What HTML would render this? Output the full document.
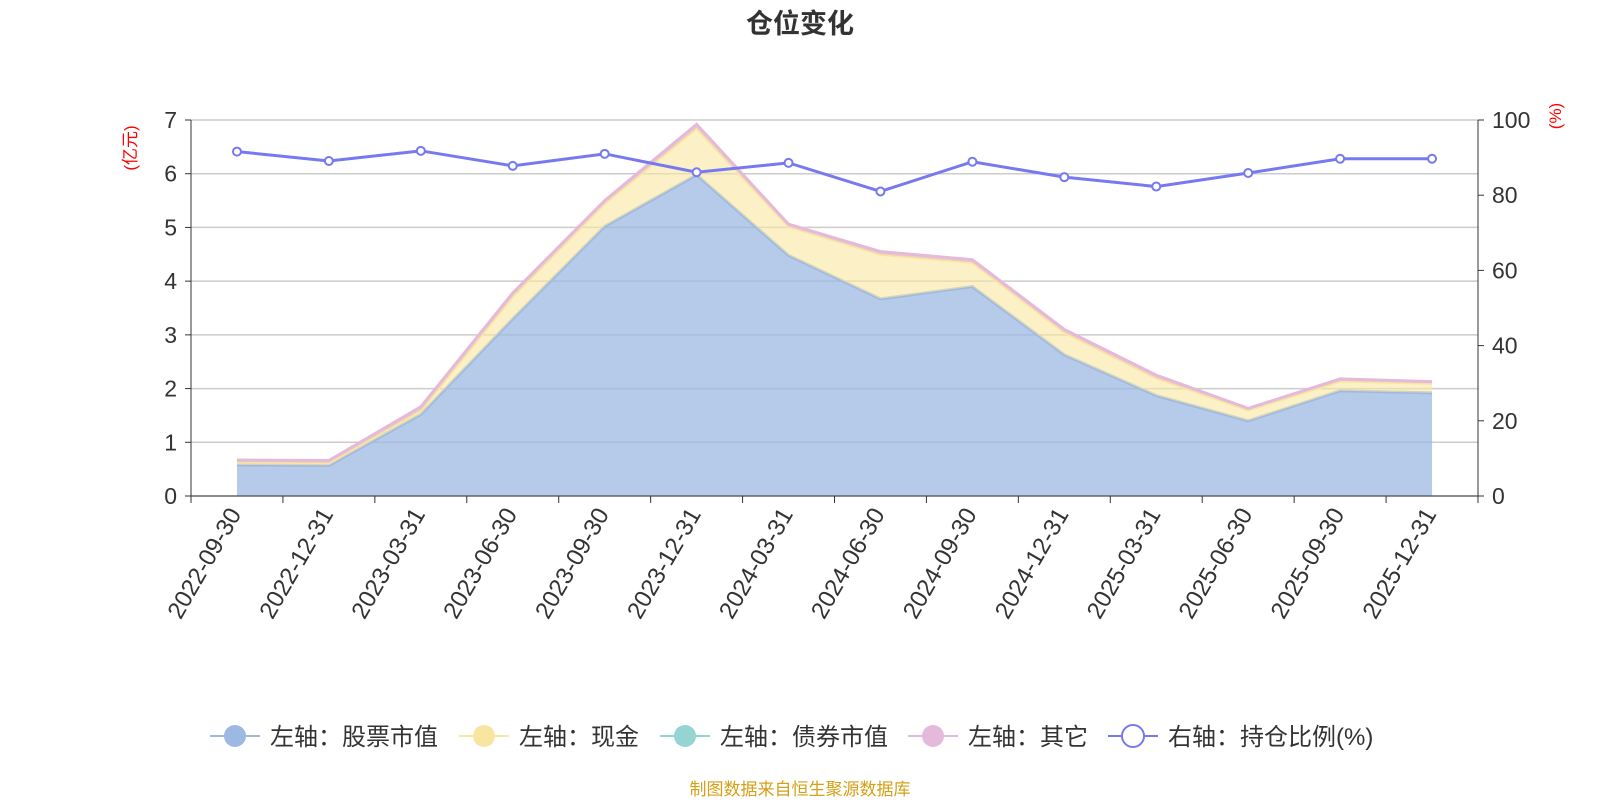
<!DOCTYPE html>
<html><head><meta charset="utf-8"><style>
body{margin:0;background:#fff;width:1600px;height:800px;overflow:hidden;font-family:"Liberation Sans","Noto Sans CJK SC",sans-serif;}
</style></head><body>
<svg id="c" width="1600" height="800" xmlns="http://www.w3.org/2000/svg" font-family="Liberation Sans, Noto Sans CJK SC, sans-serif">
<text x="800" y="33" text-anchor="middle" font-size="27" font-weight="bold" fill="#333">仓位变化</text>
<text transform="translate(136,148) rotate(-90)" text-anchor="middle" font-size="17" fill="red">(亿元)</text>
<text transform="translate(1561,116) rotate(-90)" text-anchor="middle" font-size="17" fill="red">(%)</text>
<g id="grid"></g><g id="areas"></g><g id="axes"></g><g id="ratio"></g>
<g id="legend"></g>
<text x="800" y="795" text-anchor="middle" font-size="17" fill="#d4a017">制图数据来自恒生聚源数据库</text>
</svg>
<script>
const categories=["2022-09-30","2022-12-31","2023-03-31","2023-06-30","2023-09-30","2023-12-31","2024-03-31","2024-06-30","2024-09-30","2024-12-31","2025-03-31","2025-06-30","2025-09-30","2025-12-31"];
const stockValues=[0.58,0.57,1.52,3.3,5.02,5.98,4.48,3.67,3.9,2.63,1.87,1.4,1.96,1.92];
const cashValues=[0.05,0.05,0.08,0.42,0.43,0.87,0.54,0.83,0.45,0.42,0.33,0.2,0.18,0.18];
const bondValues=[0,0,0,0,0,0,0,0,0,0,0,0,0,0];
const otherValues=[0.04,0.04,0.06,0.06,0.05,0.07,0.04,0.05,0.05,0.05,0.05,0.03,0.04,0.03];
const ratioValues=[91.6,89.1,91.8,87.8,91.0,86.1,88.6,81.0,88.9,84.8,82.3,85.9,89.7,89.7];
const leftTicks=[0,1,2,3,4,5,6,7];
const rightTicks=[0,20,40,60,80,100];
const NS="http://www.w3.org/2000/svg";
const X0=191,X1=1478,Y0=496,Y1=120;
const bw=(X1-X0)/categories.length;
const xC=i=>X0+bw*(i+0.5);
const yL=v=>Y0-(v/7)*(Y0-Y1);
const yR=v=>Y0-(v/100)*(Y0-Y1);
function mk(tag,attrs,parent){const e=document.createElementNS(NS,tag);for(const k in attrs)e.setAttribute(k,attrs[k]);document.getElementById(parent).appendChild(e);return e;}
leftTicks.forEach(t=>{
 const l=mk('line',{x1:X0,x2:X1,y1:yL(t),y2:yL(t),stroke:'#ccc','stroke-width':1.5},'grid');
 
 
 mk('line',{x1:X0-6,x2:X0,y1:yL(t),y2:yL(t),stroke:'#333'},'axes');
 const tx=mk('text',{x:X0-14,y:yL(t)+8,'text-anchor':'end','font-size':23,fill:'#333'},'axes');tx.textContent=t;
 
 
});
rightTicks.forEach(t=>{
 mk('line',{x1:X1,x2:X1+6,y1:yR(t),y2:yR(t),stroke:'#333'},'axes');
 const tx=mk('text',{x:X1+14,y:yR(t)+8,'font-size':23,fill:'#333'},'axes');tx.textContent=t;
 
 
});
mk('line',{x1:X0,x2:X0,y1:Y1,y2:Y0,stroke:'#333'},'axes');
mk('line',{x1:X1,x2:X1,y1:Y1,y2:Y0,stroke:'#333'},'axes');
mk('line',{x1:X0,x2:X1,y1:Y0,y2:Y0,stroke:'#333'},'axes');
for(let i=0;i<=categories.length;i++)mk('line',{x1:X0+bw*i,x2:X0+bw*i,y1:Y0,y2:Y0+7,stroke:'#333'},'axes');
categories.forEach((c,i)=>{
 const tx=mk('text',{transform:`translate(${xC(i)+5},${Y0+18}) rotate(-60)`,'text-anchor':'end','font-size':24,fill:'#333'},'axes');tx.textContent=c;
 
 
});
const series=[[stockValues,'#9db8e2','rgba(157,184,226,0.75)','stock-area'],[cashValues,'#f8e6a0','rgba(248,230,160,0.6)','cash-area'],[bondValues,'none','rgba(150,211,211,0.6)','bond-area'],[otherValues,'#e5b9da','rgba(229,185,218,0.6)','other-area']];
const base=categories.map(()=>0);
series.forEach(([vals,col,fill,name])=>{
 const top=vals.map((v,i)=>base[i]+v);
 const up=top.map((v,i)=>`${xC(i)},${yL(v)}`);
 const dn=base.map((v,i)=>`${xC(i)},${yL(v)}`).reverse();
 const p=mk('polygon',{points:up.concat(dn).join(' '),fill:fill,stroke:'none'},'areas');
 
 
 const l=mk('polyline',{points:up.join(' '),fill:'none',stroke:col,'stroke-width':3},'areas');
 
 
 top.forEach((v,i)=>base[i]=v);
});
const rl=mk('polyline',{points:ratioValues.map((v,i)=>`${xC(i)},${yR(v)}`).join(' '),fill:'none',stroke:'#7679f0','stroke-width':3},'ratio');


ratioValues.forEach((v,i)=>{
 const c=mk('circle',{cx:xC(i),cy:yR(v),r:4,fill:'#fff',stroke:'#7679f0','stroke-width':2},'ratio');
 
 
});
const legend=[['左轴：股票市值','#9db8e2',210,true],['左轴：现金','#f8e6a0',459,true],['左轴：债券市值','#96d3d3',660,true],['左轴：其它','#e5b9da',908,true],['右轴：持仓比例(%)','#7679f0',1108,false]];
legend.forEach(([t,c,x,f])=>{
 const g=mk('g',{},'legend');
 
 
 const add=(tag,a)=>{const e=document.createElementNS(NS,tag);for(const k in a)e.setAttribute(k,a[k]);g.appendChild(e);return e;};
 add('line',{x1:x,x2:x+50,y1:736,y2:736,stroke:c,'stroke-width':2});
 add('circle',{cx:x+25,cy:736,r:11,fill:f?c:'#fff',stroke:c,'stroke-width':f?0:2});
 const tx=add('text',{x:x+60,y:745,'font-size':24,fill:'#333'});tx.textContent=t;
});
</script>
</body></html>
